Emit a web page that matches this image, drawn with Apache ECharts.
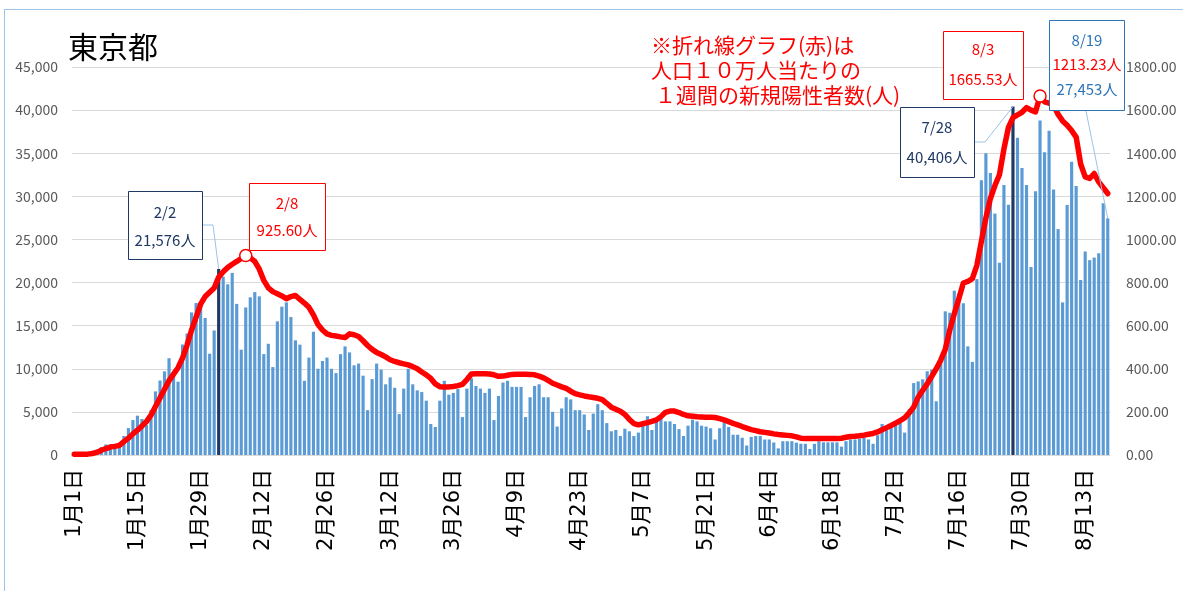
<!DOCTYPE html>
<html><head><meta charset="utf-8">
<script src="https://cdn.jsdelivr.net/npm/echarts@6/dist/echarts.min.js"></script>
<style>html,body{margin:0;padding:0;background:#fff}#c{width:1183px;height:591px}</style>
</head><body><div id="c"></div>
<script>
// ---- data ----
const monthLengths = [31,28,31,30,31,30,31,18];
const categories = [];
monthLengths.forEach((n, mi) => { for (let d = 1; d <= n; d++) categories.push((mi + 1) + '月' + d + '日'); });

const dailyCases = [
 79,84,103,151,390,641,922,1224,1223,871,962,2198,3124,4051,4561,4172,3500,5185,7377,8638,9699,11227,9468,8503,12813,14086,16538,17631,17433,15895,11751,
 14445,21576,20679,19798,21122,17526,12214,17113,18287,18891,18400,11700,12900,10200,15500,17200,17700,16000,13300,12800,8600,11300,14300,10000,10900,11300,10000,9500,
 11700,12600,11900,10400,10600,9200,5200,8800,10600,9900,8200,9000,7800,4750,7700,10000,8200,7500,7300,6300,3600,3250,6300,8600,7000,7200,7650,4400,7700,8900,8000,
 7700,7200,7700,4050,6850,8400,8600,7900,7900,7900,4400,6700,8000,8200,6700,6700,5000,3300,5400,6700,6450,5200,5200,4700,2900,4800,5900,5200,3700,2750,
 2900,2200,3050,2750,2200,2600,3400,4500,2900,3900,4450,3900,3900,3600,3000,2200,3400,4100,3900,3400,3300,3100,1800,3100,3800,3250,2350,2350,2000,1100,2100,
 2200,2200,1800,1800,1450,770,1600,1600,1600,1430,1300,1300,700,1300,1600,1470,1470,1470,1470,970,1600,1800,1800,1900,2000,1800,1300,2300,3600,3200,
 3300,3600,3870,2600,5300,8341,8529,8777,9716,9900,6231,11000,16662,16500,19059,18700,17600,12600,10800,20400,31878,34995,32698,28000,22300,31300,29036,40406,36800,33300,31300,
 21800,30600,38800,35100,37600,30800,26200,17700,29000,34000,31200,20300,23600,22600,22900,23400,29200,27453
];

const per100k = [
 3,3,3,4,7,12,22,30,37,40,
 45,62,78,98,115,135,155,185,225,265,
 305,345,375,405,450,510,580,640,700,735,
 755,775,825,850,870,885,898,912,925.60,915,
 898,862,810,775,758,748,738,725,735,740,
 722,705,685,650,605,580,562,555,552,548,
 545,562,558,550,530,508,490,476,466,455,
 442,434,428,423,418,410,400,385,372,355,
 330,317,316,316,318,322,328,350,376,377,
 377,377,376,372,365,366,370,374,375,375,
 375,374,372,366,358,346,333,325,316,309,
 296,285,279,274,270,267,263,257,240,222,
 212,203,188,165,146,140,145,150,156,163,
 178,198,204,204,197,188,182,180,177,176,
 175,175,174,169,163,155,147,140,132,125,
 118,113,108,105,102,98,95,93,91,89,
 84,78,76,76,76,76,76,76,76,76,
 78,82,86,87,89,92,96,100,107,117,
 127,137,148,160,172,195,222,268,300,330,
 365,400,440,490,580,655,725,798,805,818,
 880,990,1100,1190,1250,1300,1420,1520,1565,1578,
 1590,1612,1600,1592,1665.53,1638,1632,1623,1580,1550,
 1530,1505,1475,1350,1290,1283,1306,1267,1240,1213.23
];

const highlightBars = ['2月2日', '7月28日'];
const markerDays = ['2月8日', '8月3日'];
const noteLines = ['※折れ線グラフ(赤)は', '人口１０万人当たりの', '１週間の新規陽性者数(人)'];

// ---- chart ----
const F = '"Noto Sans CJK JP", "Noto Sans", sans-serif';
const FX = '"DejaVu Sans", "Noto Sans CJK JP", sans-serif';
const NAVY = '#203864', RED = '#ff0000', BLUE = '#2e75b6', LEAD = '#9dc3e6';
const chart = echarts.init(document.getElementById('c'), null, {renderer: 'canvas'});
const idx = d => categories.indexOf(d);

const barData = dailyCases.map((v, i) => highlightBars.includes(categories[i])
  ? {value: v, itemStyle: {color: NAVY}} : v);

const option = {
  animation: false,
  backgroundColor: '#fff',
  grid: {left: 72, right: 73, top: 67, bottom: 136},
  xAxis: {
    type: 'category', data: categories, boundaryGap: true,
    axisLine: {lineStyle: {color: '#d9d9d9'}},
    axisTick: {interval: 13, length: 5, lineStyle: {color: '#d9d9d9'}},
    axisLabel: {interval: 13, rotate: 90, margin: 14, color: '#000', fontSize: 21, fontFamily: FX}
  },
  yAxis: [
    {type: 'value', min: 0, max: 45000, interval: 5000,
     axisLine: {show: false}, axisTick: {show: false},
     splitLine: {lineStyle: {color: '#d9d9d9'}},
     axisLabel: {color: '#595959', fontSize: 14, fontFamily: F, margin: 14,
       formatter: v => v.toLocaleString('en-US')}},
    {type: 'value', min: 0, max: 1800, interval: 200,
     axisLine: {show: false}, axisTick: {show: false}, splitLine: {show: false},
     axisLabel: {color: '#595959', fontSize: 14, fontFamily: F, margin: 16,
       formatter: v => v.toFixed(2)}}
  ],
  series: [
    {type: 'bar', data: barData, barWidth: '70%', itemStyle: {color: '#5b9bd5'}, z: 2},
    {type: 'line', yAxisIndex: 1, data: per100k, showSymbol: false, symbol: 'none',
     lineStyle: {color: RED, width: 5.5, join: 'round', cap: 'round'}, z: 3},
    {type: 'scatter', yAxisIndex: 1, symbol: 'circle', symbolSize: 12,
     itemStyle: {color: '#fff', borderColor: RED, borderWidth: 1.5, opacity: 1}, z: 4,
     data: markerDays.map(d => [idx(d), per100k[idx(d)]])}
  ]
};
chart.setOption(option);

// ---- annotations ----
const px = (i, v, s) => chart.convertToPixel({xAxisIndex: 0, yAxisIndex: s}, [i, v]);
function txt(x, y, t, c, size) {
  return {type: 'text', x: x, y: y, z: 20, style: {text: t, fill: c, fontSize: size || 15, fontFamily: F,
    align: 'center', verticalAlign: 'middle', textAlign: 'center', textVerticalAlign: 'middle'}};
}
function box(x, y, w, h, c) {
  return {type: 'rect', z: 19, shape: {x: x, y: y, width: w, height: h}, style: {fill: '#fff', stroke: c, lineWidth: 1}};
}
function lead(pts) {
  return {type: 'polyline', z: 18, shape: {points: pts}, style: {stroke: LEAD, lineWidth: 1, fill: null}};
}
const i22 = idx('2月2日'), i728 = idx('7月28日'), iLast = dailyCases.length - 1;
const iFeb8 = idx('2月8日'), iAug3 = idx('8月3日');
const b22 = px(i22, dailyCases[i22], 0), b728 = px(i728, dailyCases[i728], 0), bLast = px(iLast, dailyCases[iLast], 0);

const g = [
  {type: 'rect', z: 0, shape: {x: 4.5, y: 9.5, width: 1300, height: 700}, style: {fill: null, stroke: '#9dc3e6', lineWidth: 1}},
  {type: 'text', x: 68, y: 47, z: 20, style: {text: '東京都', fill: '#000', fontSize: 30, fontFamily: F,
    verticalAlign: 'middle', textVerticalAlign: 'middle'}},
  // 2/2
  lead([[202, 225], [213, 225], [b22[0], b22[1]]]),
  box(128.5, 191.5, 74, 68, NAVY),
  txt(165, 212, '2/2', NAVY), txt(165, 240, dailyCases[i22].toLocaleString('en-US') + '人', NAVY),
  // 2/8
  box(249.5, 183.5, 76, 67, RED),
  txt(287, 203, '2/8', RED), txt(287, 230, per100k[iFeb8].toFixed(2) + '人', RED),
  // 7/28
  lead([[974, 142], [985, 142], [b728[0], b728[1]]]),
  box(900.5, 107.5, 74, 70, NAVY),
  txt(937, 127, '7/28', NAVY), txt(937, 157, dailyCases[i728].toLocaleString('en-US') + '人', NAVY),
  // 8/3
  box(943.5, 31.5, 80, 68, RED),
  txt(983, 49, '8/3', RED), txt(983, 79, per100k[iAug3].toFixed(2) + '人', RED),
  // 8/19
  lead([[1086, 111], [bLast[0], bLast[1]]]),
  box(1049.5, 20.5, 75, 90, BLUE),
  txt(1087, 40, '8/19', BLUE), txt(1087, 64, per100k[iLast].toFixed(2) + '人', RED),
  txt(1087, 89, dailyCases[iLast].toLocaleString('en-US') + '人', BLUE)
];
noteLines.forEach((t, k) => {
  g.push({type: 'text', x: k === 2 ? 655 : 651, y: 45 + k * 25, z: 20, style: {text: t, fill: RED, fontSize: 21,
    fontFamily: F, verticalAlign: 'middle', textVerticalAlign: 'middle'}});
});
chart.setOption({graphic: g});
</script></body></html>
